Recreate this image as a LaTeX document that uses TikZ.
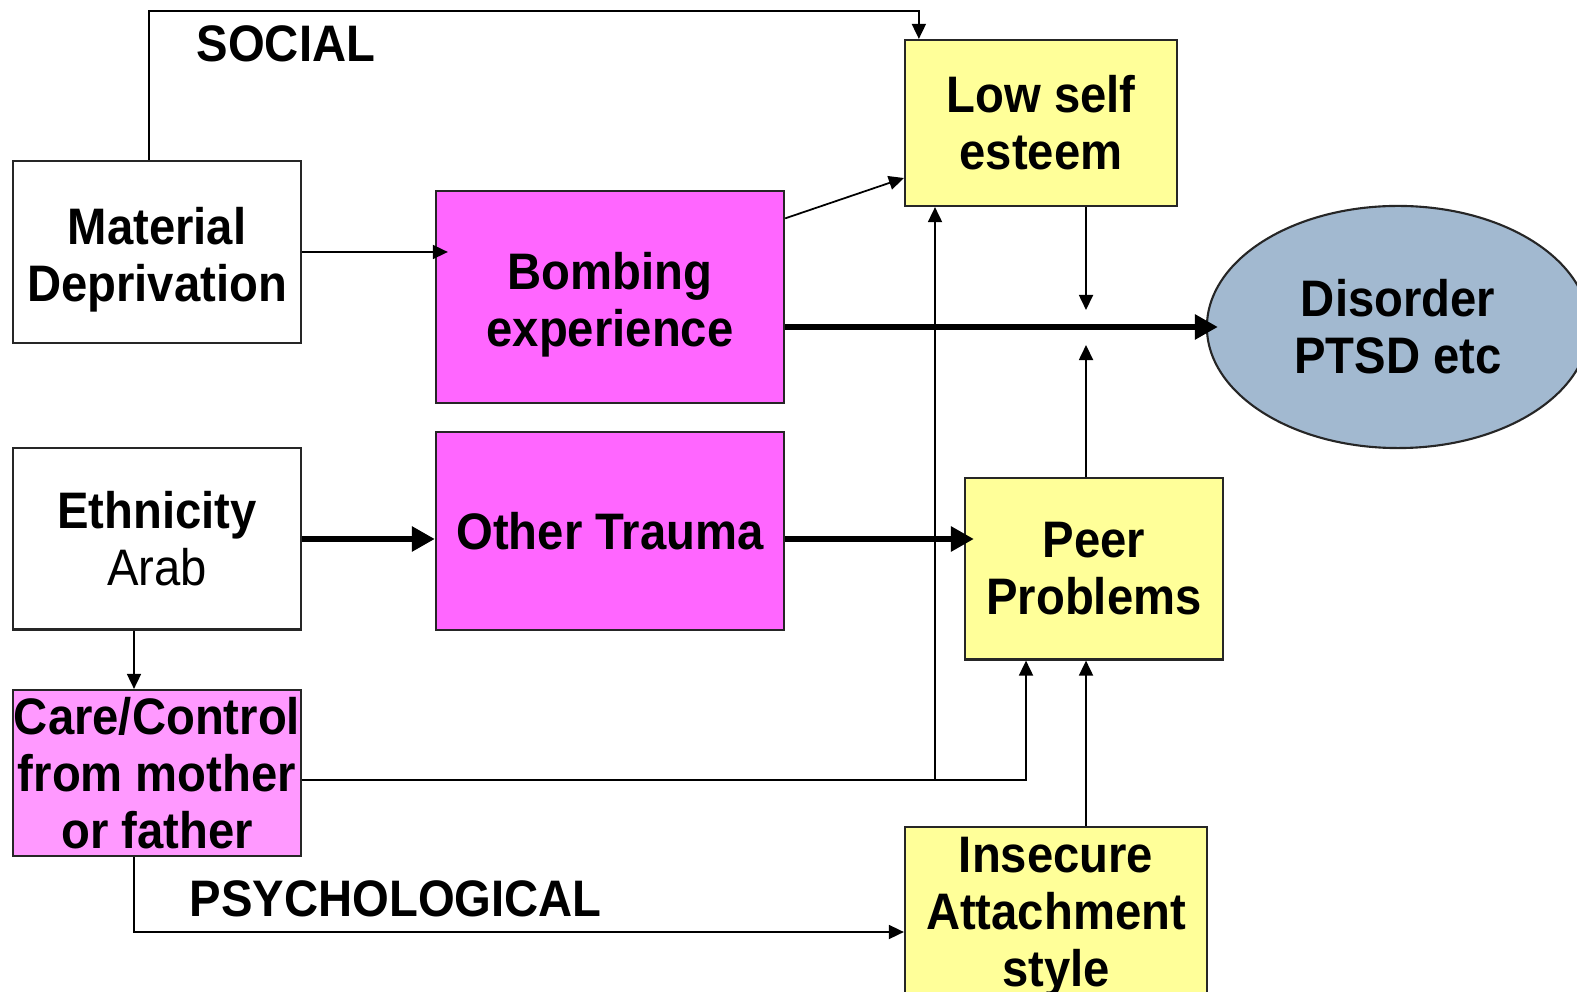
\documentclass[tikz,border=0pt]{standalone}
\usepackage{fontspec}
\usepackage{tikz}
\usetikzlibrary{shapes,calc,arrows.meta}
\newfontfamily\diafont[FakeStretch=0.92]{Liberation Sans}
\definecolor{trauma}{HTML}{FF66FF}
\definecolor{carepink}{HTML}{FF99FF}
\definecolor{pale}{HTML}{FFFF99}
\definecolor{outcome}{HTML}{A2B9D0}
\newcommand\lowline{\rule{0pt}{15pt}}

\begin{document}
\begin{tikzpicture}[x=0.01cm, y=-0.01cm,
    box/.style={draw=black!85, line width=0.6pt, align=center, inner sep=0pt,
        font=\diafont\bfseries\fontsize{14.6}{16.2}\selectfont},
    lbl/.style={inner sep=0pt, font=\diafont\bfseries\fontsize{14.6}{16.2}\selectfont},
    link/.style={line width=0.5pt, -{Triangle[length=0.15cm,width=0.14cm]}},
    heavy/.style={line width=1.8pt, -{Triangle[length=0.23cm,width=0.24cm]}}]
    \useasboundingbox (0,0) rectangle (1577,992);
    \node (mat) [box, minimum width=2.88cm, minimum height=1.82cm] at (157,252) {\lowline Material\\Deprivation};
    \node (bomb) [box, fill=trauma, minimum width=3.48cm, minimum height=2.11cm] at (610,297) {\lowline Bombing\\experience};
    \node (low) [box, fill=pale, minimum width=2.72cm, minimum height=1.66cm] at (1041,123) {Low self\\esteem};
    \node (dis) [box, ellipse, fill=outcome, minimum width=3.82cm, minimum height=2.42cm] at (1398,327) {Disorder\\PTSD etc};
    \node (eth) [box, minimum width=2.88cm, minimum height=1.81cm] at (157,539) {Ethnicity\\{\mdseries Arab}};
    \node (other) [box, fill=trauma, minimum width=3.48cm, minimum height=1.97cm] at (610,531) {Other Trauma};
    \node (peer) [box, fill=pale, minimum width=2.58cm, minimum height=1.81cm] at (1094,569) {Peer\\Problems};
    \node (care) [box, fill=carepink, minimum width=2.88cm, minimum height=1.66cm] at (157,773) {Care/Control\\from mother\\or father};
    \node (ins) [box, fill=pale, minimum width=3.02cm, minimum height=1.80cm] at (1056,917) {Insecure\\Attachment\\style};
    \node (social) [lbl, anchor=base west] at (196,62) {SOCIAL};
    \node (psych) [lbl, anchor=base west] at (189,916) {PSYCHOLOGICAL};
    \coordinate (socialbend) at (149,11);
    \coordinate (psybend) at (134,932);
    \coordinate (carebend) at (1026,780);
    \coordinate (lowbend) at (935,780);
    \coordinate (midx) at (1086,327);
    \draw[link] (socialbend |- mat.north) -- (socialbend) -| ($(low.north west)+(15,0)$);
    \draw[link, shorten >=-0.13cm] (mat.east) -- (mat.east -| bomb.west);
    \draw[link] ($(bomb.north east)+(0,28)$) -- ($(low.west)+(0,55)$);
    \draw[heavy, shorten >=-0.12cm] (bomb.east |- dis.west) -- (dis.west);
    \draw[link] (low.south -| midx) -- ($(midx)+(0,-17)$);
    \draw[link] (peer.north -| midx) -- ($(midx)+(0,18)$);
    \draw[heavy] (eth.east) -- (eth.east -| other.west);
    \draw[heavy, shorten >=-0.1cm] (other.east |- eth.east) -- (peer.west |- eth.east);
    \draw[link] (psybend |- eth.south) -- (psybend |- care.north);
    \draw[link] (care.east |- carebend) -- (carebend) -- (carebend |- peer.south);
    \draw[link] (lowbend) -- (lowbend |- low.south);
    \draw[link] (ins.north -| midx) -- (peer.south -| midx);
    \draw[link] (psybend |- care.south) -- (psybend) -- (psybend -| ins.west);
\end{tikzpicture}
\end{document}
